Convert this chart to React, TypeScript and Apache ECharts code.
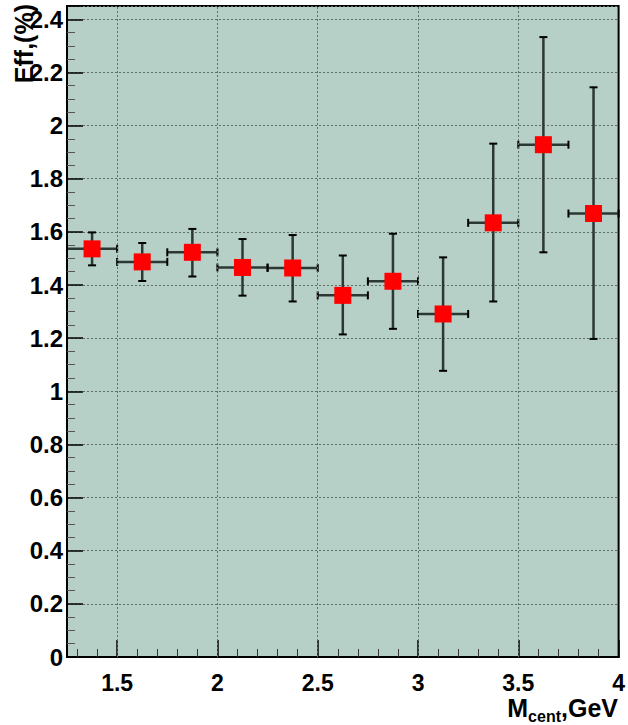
import React, { useEffect, useRef } from "react";
import * as echarts from "echarts";

// ---- data ----
const xCenters = [1.375, 1.625, 1.875, 2.125, 2.375, 2.625, 2.875, 3.125, 3.375, 3.625, 3.875];
const effValues = [1.536, 1.487, 1.523, 1.466, 1.464, 1.361, 1.414, 1.291, 1.634, 1.928, 1.669];
const errLow = [1.474, 1.415, 1.432, 1.36, 1.338, 1.214, 1.235, 1.077, 1.338, 1.523, 1.197];
const errHigh = [1.598, 1.558, 1.611, 1.573, 1.588, 1.511, 1.593, 1.504, 1.932, 2.333, 2.144];
const xHalfWidth = [0.125, 0.125, 0.125, 0.125, 0.125, 0.125, 0.125, 0.125, 0.125, 0.125, 0.125];

const xMajorTicks = [1.5, 2, 2.5, 3, 3.5, 4];
const xMinorTicks = [1.3, 1.4, 1.6, 1.7, 1.8, 1.9, 2.1, 2.2, 2.3, 2.4, 2.6, 2.7, 2.8, 2.9, 3.1, 3.2, 3.3, 3.4, 3.6, 3.7, 3.8, 3.9];
const xGridLines = [1.5, 2, 2.5, 3, 3.5];
const xRange = [1.25, 4];
const yRange = [0, 2.45];
const yStep = 0.2;

const FONT = "'Liberation Sans', Arial, Helvetica, sans-serif";

export default function App() {
  const ref = useRef<HTMLDivElement>(null);

  useEffect(() => {
    if (!ref.current) return;
    const chart = echarts.init(ref.current, null, { renderer: "svg" });

    const points = xCenters.map((x, i) => [x, effValues[i], errLow[i], errHigh[i], xHalfWidth[i]]);

    const option: any = {
      animation: false,
      backgroundColor: "#ffffff",
      grid: {
        left: 67,
        top: 6,
        width: 552,
        height: 651,
        show: true,
        backgroundColor: "#b6cfc7",
        borderColor: "#000",
        borderWidth: 2,
      },
      xAxis: [
        {
          type: "value",
          min: xRange[0],
          max: xRange[1],
          position: "bottom",
          axisLine: { show: true, onZero: false, lineStyle: { color: "#000", width: 2 } },
          axisTick: { show: true, inside: true, length: 17, customValues: xMajorTicks, lineStyle: { color: "#000", width: 1.5 } },
          axisLabel: {
            show: true,
            customValues: xMajorTicks,
            margin: 16,
            lineHeight: 20,
            fontSize: 23,
            fontWeight: "bold",
            fontFamily: FONT,
            color: "#000",
            hideOverlap: false,
            formatter: (v: number) => String(v),
          },
          splitLine: { show: false },
        },
        {
          type: "value",
          min: xRange[0],
          max: xRange[1],
          position: "bottom",
          axisLine: { show: false, onZero: false },
          axisTick: { show: true, inside: true, length: 8, customValues: xMinorTicks, lineStyle: { color: "#333", width: 1 } },
          axisLabel: { show: false },
          splitLine: { show: false },
        },
      ],
      yAxis: {
        type: "value",
        min: yRange[0],
        max: yRange[1],
        interval: yStep,
        axisLine: { show: true, onZero: false, lineStyle: { color: "#000", width: 2 } },
        axisTick: { show: true, inside: true, length: 16, lineStyle: { color: "#000", width: 1.5 } },
        minorTick: { show: true, splitNumber: 4, length: 8, lineStyle: { color: "#555", width: 1 } },
        axisLabel: {
          margin: 4,
          fontSize: 24,
          fontWeight: "bold",
          fontFamily: FONT,
          color: "#000",
          showMaxLabel: false,
          formatter: (v: number) => String(Math.round(v * 10) / 10),
        },
        splitLine: { show: true, lineStyle: { color: "#5d6d68", width: 1, type: [2, 2] } },
      },
      series: [
        {
          type: "scatter",
          xAxisIndex: 0,
          data: [],
          z: 1,
          silent: true,
          markLine: {
            silent: true,
            symbol: ["none", "none"],
            label: { show: false },
            lineStyle: { color: "#5d6d68", width: 1, type: [2, 2] },
            data: xGridLines.map((v) => ({ xAxis: v })),
          },
        },
        {
          type: "custom",
          xAxisIndex: 0,
          z: 3,
          clip: false,
          data: points,
          renderItem: (params: any, api: any) => {
            const x = api.value(0);
            const y = api.value(1);
            const lo = api.value(2);
            const hi = api.value(3);
            const hw = api.value(4);
            const pLo = api.coord([x, lo]);
            const pHi = api.coord([x, hi]);
            const pL = api.coord([x - hw, y]);
            const pR = api.coord([x + hw, y]);
            const cap = 4;
            const barStyle = { stroke: "#2c3834", lineWidth: 2.5 };
            const capStyle = { stroke: "#000", lineWidth: 2 };
            return {
              type: "group",
              children: [
                { type: "line", shape: { x1: pLo[0], y1: pLo[1], x2: pHi[0], y2: pHi[1] }, style: barStyle },
                { type: "line", shape: { x1: pHi[0] - cap, y1: pHi[1], x2: pHi[0] + cap, y2: pHi[1] }, style: capStyle },
                { type: "line", shape: { x1: pLo[0] - cap, y1: pLo[1], x2: pLo[0] + cap, y2: pLo[1] }, style: capStyle },
                { type: "line", shape: { x1: pL[0], y1: pL[1], x2: pR[0], y2: pR[1] }, style: barStyle },
                { type: "line", shape: { x1: pL[0], y1: pL[1] - cap, x2: pL[0], y2: pL[1] + cap }, style: capStyle },
                { type: "line", shape: { x1: pR[0], y1: pR[1] - cap, x2: pR[0], y2: pR[1] + cap }, style: capStyle },
              ],
            };
          },
        },
        {
          type: "scatter",
          xAxisIndex: 0,
          z: 4,
          symbol: "rect",
          symbolSize: 17,
          itemStyle: { color: "#ff0000", opacity: 1 },
          data: xCenters.map((x, i) => [x, effValues[i]]),
        },
      ],
      graphic: [
        {
          type: "text",
          x: 24,
          y: 4,
          rotation: Math.PI / 2,
          style: {
            text: "Eff,(%)",
            fontSize: 25,
            fontWeight: "bold",
            fontFamily: FONT,
            fill: "#000",
            align: "right",
            verticalAlign: "middle",
          },
          z: 10,
        },
        {
          type: "text",
          right: 10,
          top: 695,
          style: {
            text: "{m|M}{s|cent}{m|,GeV}",
            fontFamily: FONT,
            fill: "#000",
            rich: {
              m: { fontSize: 25, fontWeight: "bold", fontFamily: FONT, lineHeight: 22, verticalAlign: "top", fill: "#000" },
              s: { fontSize: 16, fontWeight: "bold", fontFamily: FONT, lineHeight: 15, verticalAlign: "top", padding: [13, 0, 0, 0], fill: "#000" },
            },
          },
          z: 10,
        },
      ],
    };

    chart.setOption(option);
    return () => chart.dispose();
  }, []);

  return (
    <div
      ref={ref}
      style={{ position: "absolute", left: 0, top: 0, width: 628, height: 725 }}
    />
  );
}
